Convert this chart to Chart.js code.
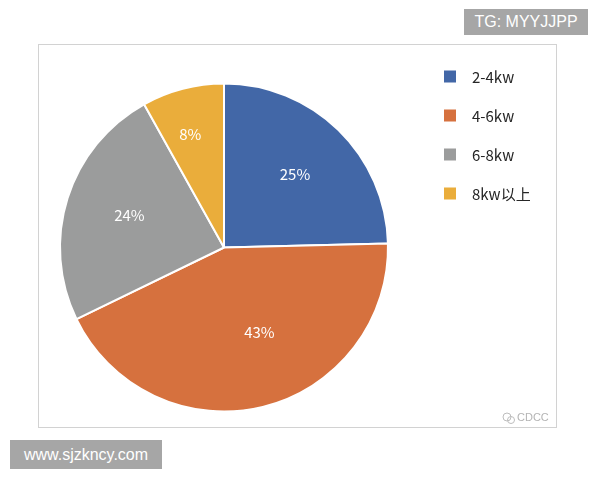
<!DOCTYPE html>
<html>
<head>
<meta charset="utf-8">
<script src="https://cdn.jsdelivr.net/npm/chart.js@4"></script>
<style>
  body { margin: 0; background: #fff; }
  #wrap { position: relative; width: 600px; height: 480px; }
  #pieChart { position: absolute; left: 0; top: 0; }
  .tag { position: absolute; background: #a6a6a6; color: #fff;
         font-family: "Liberation Sans", Arial, sans-serif; font-size: 16px;
         line-height: 26px; text-align: center; }
</style>
</head>
<body>
<div id="wrap">
  <canvas id="pieChart" width="600" height="480"></canvas>
  <div class="tag" style="left:464px; top:9px; width:124px; height:26px;">TG: MYYJJPP</div>
  <div class="tag" style="left:10px; top:440px; width:152px; height:29px; line-height:29px;">www.sjzkncy.com</div>
</div>
<script>
var categories = ['2-4kw', '4-6kw', '6-8kw', '8kw以上']
var shares     = [24.6, 43.2, 24.1, 8.1]
var colors     = ['#4267a7', '#d6713e', '#9b9c9c', '#eaad3b']
// label placement inside each slice: fraction of radius, small turn in degrees
var labelPos   = [0.62, 0.56, 0.61, 0.72]
var labelTurn  = [0, -9, 1.5, -2]

var font = '"Noto Sans CJK SC", "Noto Sans", sans-serif'

var decorPlugin = {
  id: 'decor',
  beforeDraw: function (chart) {
    var ctx = chart.ctx
    ctx.save()
    ctx.strokeStyle = '#d2d2d2'
    ctx.lineWidth = 1
    ctx.strokeRect(38.5, 44.5, 518, 383)
    ctx.restore()
  },
  afterDraw: function (chart) {
    var ctx = chart.ctx
    var meta = chart.getDatasetMeta(0)
    ctx.save()
    // percent labels in the slices
    ctx.fillStyle = '#ffffff'
    ctx.font = '15px ' + font
    ctx.textAlign = 'center'
    ctx.textBaseline = 'middle'
    meta.data.forEach(function (arc, i) {
      var mid = (arc.startAngle + arc.endAngle) / 2 + labelTurn[i] * Math.PI / 180
      var r = arc.outerRadius * labelPos[i]
      ctx.fillText(Math.round(shares[i]) + '%', arc.x + Math.cos(mid) * r, arc.y + Math.sin(mid) * r)
    })
    // legend
    ctx.textAlign = 'left'
    ctx.font = '15px ' + font
    categories.forEach(function (name, i) {
      var y = 76.5 + i * 39
      ctx.fillStyle = colors[i]
      ctx.fillRect(444, y - 6, 12, 12)
      ctx.fillStyle = '#262626'
      ctx.fillText(name, 472, y + 1)
    })
    // watermark
    ctx.fillStyle = '#b4b4b4'
    ctx.font = '11px "Liberation Sans", sans-serif'
    ctx.fillText('CDCC', 517, 418)
    ctx.strokeStyle = '#bdbdbd'
    ctx.lineWidth = 1
    ctx.beginPath(); ctx.arc(507, 417, 4, 0, Math.PI * 2); ctx.stroke()
    ctx.beginPath(); ctx.arc(511, 420, 3.5, 0, Math.PI * 2); ctx.stroke()
    ctx.restore()
  }
}

var pieChart = new Chart(document.getElementById('pieChart').getContext('2d'), {
  type: 'pie',
  data: {
    labels: categories,
    datasets: [
      {
        data: shares,
        backgroundColor: colors,
        borderColor: '#ffffff',
        borderWidth: 2
      }
    ]
  },
  options: {
    responsive: false,
    animation: false,
    layout: { padding: { left: 59, top: 82, right: 211, bottom: 67 } },
    plugins: {
      legend: { display: false },
      tooltip: { enabled: false }
    }
  },
  plugins: [decorPlugin]
})
</script>
</body>
</html>
